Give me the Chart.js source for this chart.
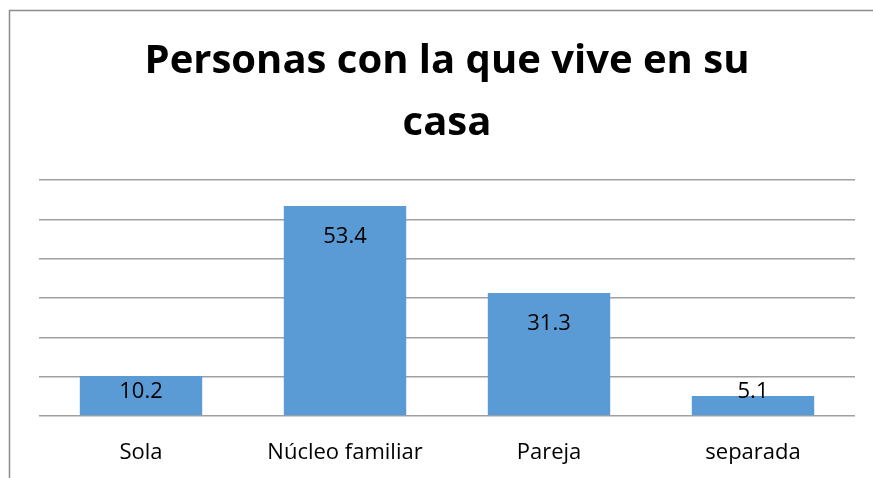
<!DOCTYPE html>
<html>
<head>
<meta charset="utf-8">
<script src="https://cdn.jsdelivr.net/npm/chart.js@4.4.1/dist/chart.umd.min.js"></script>
<style>
  html, body { margin: 0; padding: 0; background: #fff; }
  #wrap { width: 873px; height: 478px; position: relative; }
</style>
</head>
<body>
<div id="wrap"><canvas id="grafico"></canvas></div>
<script>
// datos del gráfico
const categorias = ['Sola', 'Núcleo familiar', 'Pareja', 'separada'];
const valores = [10.2, 53.4, 31.3, 5.1];
const titulo = ['Personas con la que vive en su', 'casa'];

// borde del área del gráfico (izquierda y arriba)
const bordePlugin = {
  id: 'borde',
  beforeDraw(chart) {
    const ctx = chart.ctx;
    ctx.save();
    ctx.fillStyle = '#fff';
    ctx.fillRect(0, 0, chart.width, chart.height);
    ctx.strokeStyle = '#8c8c8c';
    ctx.lineWidth = 1.5;
    ctx.beginPath();
    ctx.moveTo(9.5, chart.height);
    ctx.lineTo(9.5, 10.5);
    ctx.lineTo(chart.width, 10.5);
    ctx.stroke();
    ctx.restore();
  }
};

// etiquetas de valor dentro de las barras
const etiquetasPlugin = {
  id: 'etiquetas',
  afterDatasetsDraw(chart) {
    const ctx = chart.ctx;
    const meta = chart.getDatasetMeta(0);
    ctx.save();
    ctx.font = '22px "Open Sans"';
    ctx.fillStyle = '#000';
    ctx.textAlign = 'center';
    ctx.textBaseline = 'middle';
    meta.data.forEach((bar, i) => {
      const y = Math.min(bar.y + 31, bar.base - 24);
      ctx.fillText(String(valores[i]), bar.x, y);
    });
    ctx.restore();
  }
};

new Chart(document.getElementById('grafico'), {
  type: 'bar',
  data: {
    labels: categorias,
    datasets: [{
      data: valores,
      backgroundColor: '#5b9bd5',
      borderWidth: 0,
      categoryPercentage: 1,
      barPercentage: 0.6
    }]
  },
  options: {
    responsive: true,
    maintainAspectRatio: false,
    animation: false,
    layout: { padding: { left: 39, right: 18, top: 0, bottom: 0 } },
    plugins: {
      legend: { display: false },
      tooltip: { enabled: false },
      title: {
        display: true,
        text: titulo,
        color: '#000',
        font: { family: '"Open Sans"', size: 40, weight: 'bold', lineHeight: 1.55 },
        padding: { top: 31, bottom: 25 }
      }
    },
    scales: {
      x: {
        grid: { display: false, drawTicks: false },
        border: { display: false },
        ticks: {
          color: '#000',
          padding: 24,
          maxRotation: 0,
          font: { family: '"Open Sans"', size: 22 }
        },
        afterFit(scale) { scale.height = 62; }
      },
      y: {
        min: 0,
        max: 60,
        ticks: { stepSize: 10, display: false },
        border: { display: false },
        grid: { color: '#a0a0a0', lineWidth: 1.5, drawTicks: false }
      }
    }
  },
  plugins: [bordePlugin, etiquetasPlugin]
});
</script>
</body>
</html>
